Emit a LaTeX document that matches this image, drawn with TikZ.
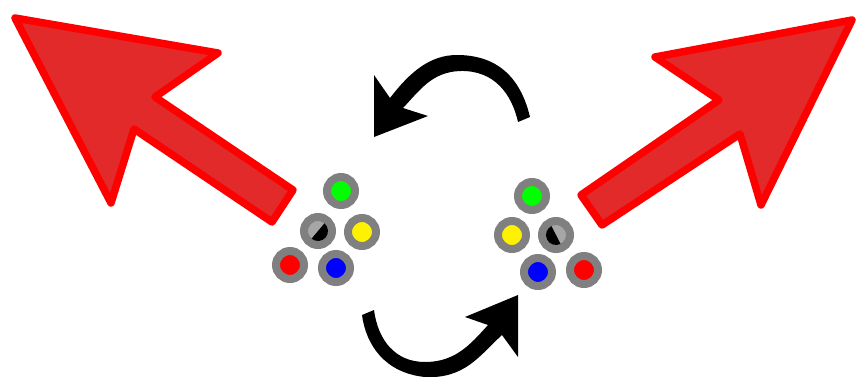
\documentclass[tikz,border=0pt]{standalone}
\usepackage{tikz}
\usetikzlibrary{shadows}
\definecolor{bigred}{RGB}{226,42,42}
\tikzset{
  big arrow/.style={draw=red, fill=bigred, line width=7.5pt, line join=round, drop shadow={opacity=.2, shadow xshift=1pt, shadow yshift=-1pt}},
  turn arrow/.style={fill=black},
  ring/.style={circle, draw=gray, line width=8pt, minimum size=28pt, inner sep=0pt},
  half/.style={fill=black}
}
\begin{document}
\begin{tikzpicture}[x=1pt, y=-1pt]
\useasboundingbox (0,0) rectangle (857,376);
%
\draw[big arrow] (15,18)--(218,53)--(155,97)--(293,190)--(272,222)--(134,129)--(111,203)--cycle;
\draw[big arrow] (852,20)--(655,57)--(719,100)--(581,195)--(602,225)--(740,134)--(761,205)--cycle;
%
\node [ring, fill=green] at (341,191) (green l) {};
\node [ring, fill=yellow] at (362,232) (yellow l) {};
\node [ring, fill=red] at (290,265) (red l) {};
\node [ring, fill=blue] at (336,268) (blue l) {};
\node [ring, fill=gray!70] at (318,231) (mix l) {};
\node [ring, fill=green] at (532,196) (green r) {};
\node [ring, fill=yellow] at (512,235) (yellow r) {};
\node [ring, fill=red] at (584,270) (red r) {};
\node [ring, fill=blue] at (538,272) (blue r) {};
\node [ring, fill=gray!70] at (556,235) (mix r) {};
%
\fill[half] (mix l.center) ++(50:10pt) arc[start angle=50, end angle=-130, radius=10pt] -- cycle;
\fill[half] (mix r.center) ++(117:10pt) arc[start angle=117, end angle=297, radius=10pt] -- cycle;
%
\fill[turn arrow] (530,117) .. controls (520,75) and (495,55) .. (457,55) .. controls (430,55) and (410,72) .. (390,98)
  -- (374,75) -- (374,137) -- (428,116) -- (403,108) .. controls (420,90) and (432,72) .. (460,71) .. controls (495,70) and (512,95) .. (518,122) -- cycle;
\fill[turn arrow] (362,315) .. controls (366,345) and (385,373) .. (425,377) .. controls (465,379) and (480,355) .. (502,335)
  -- (518,357) -- (518,295) -- (465,317) -- (488,325) .. controls (470,345) and (455,362) .. (425,362) .. controls (395,362) and (378,340) .. (374,310) -- cycle;
\end{tikzpicture}
\end{document}
